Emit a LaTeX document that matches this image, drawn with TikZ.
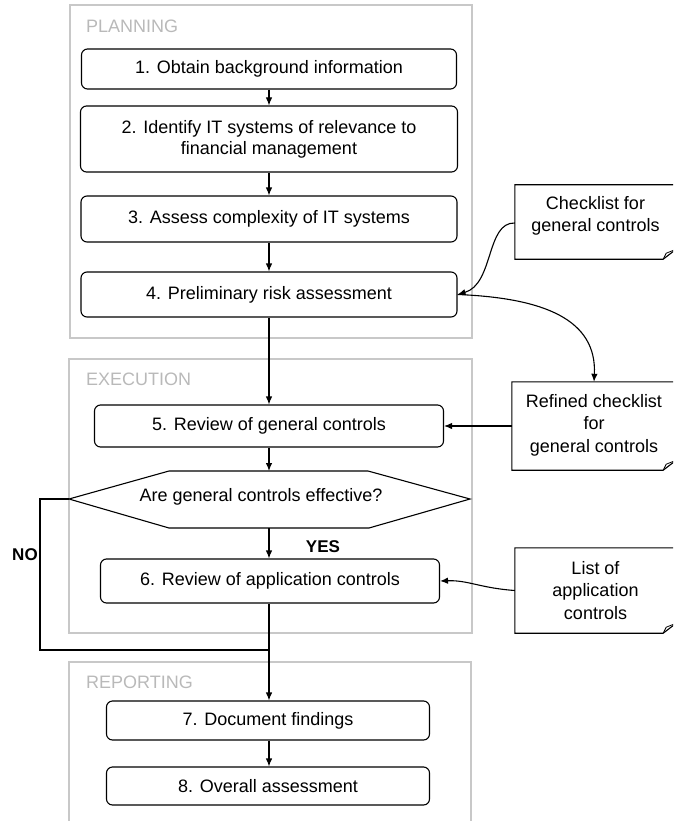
\documentclass[tikz,border=0pt]{standalone}
\usepackage{fontspec}
\setmainfont{Liberation Sans}
\usetikzlibrary{arrows.meta,calc}
\definecolor{framegray}{RGB}{200,200,200}
\definecolor{labelgray}{RGB}{185,185,185}
\tikzset{
  every node/.style={font=\fontsize{18}{21}\selectfont},
  phase/.style={draw=framegray, line width=2.6pt},
  phaselabel/.style={text=labelgray, anchor=west, inner sep=0pt},
  stepbox/.style={draw, line width=1.1pt, rounded corners=6pt, align=center, inner sep=0pt},
  notebox/.style={inner sep=0pt},
  notetext/.style={align=center, inner sep=0pt, font=\fontsize{18}{22.5}\selectfont},
  flow/.style={line width=1.1pt, -{Latex[length=8pt,width=6.5pt]}},
  plain/.style={line width=1.1pt},
  answer/.style={font=\fontsize{17}{20}\selectfont\bfseries, inner sep=0pt},
}
\newcommand{\notedraw}[1]{%
  \draw[line width=1.1pt] (#1.north west) -- (#1.north east) -- ([yshift=10pt]#1.south east)
    -- ([xshift=-13pt]#1.south east) -- (#1.south west) -- cycle;
  \draw[line width=0.8pt] ([xshift=-13pt]#1.south east) -- ([xshift=-10pt,yshift=6pt]#1.south east)
    -- ([yshift=10pt]#1.south east);}
\begin{document}
\begin{tikzpicture}[x=1pt,y=-1pt]
\useasboundingbox (0,0) rectangle (673,821);
\begin{scope}
\clip (0,0) rectangle (673,821);

% phase frames
\draw[phase] (70,5) rectangle (472,338);
\draw[phase] (69,359) rectangle (472,633);
\draw[phase] (69,662) rectangle (471,840);
\node[phaselabel] (lplan) at (86,26) {PLANNING};
\node[phaselabel] (lexec) at (86,379) {EXECUTION};
\node[phaselabel] (lrep) at (86,682) {REPORTING};

% process steps
\node[stepbox, minimum width=375pt, minimum height=40pt] (s1) at (269,69) {1. Obtain background information};
\node[stepbox, minimum width=377pt, minimum height=66pt] (s2) at (269,139) {2. Identify IT systems of relevance to\\financial management};
\node[stepbox, minimum width=376pt, minimum height=46pt] (s3) at (269,219) {3. Assess complexity of IT systems};
\node[stepbox, minimum width=376pt, minimum height=45pt] (s4) at (269,294.5) {4. Preliminary risk assessment};
\node[stepbox, minimum width=349pt, minimum height=42pt] (s5) at (269,426) {5. Review of general controls};
\node[stepbox, minimum width=339pt, minimum height=44pt] (s6) at (270,581) {6. Review of application controls};
\node[stepbox, minimum width=323pt, minimum height=39pt] (s7) at (268,720.5) {7. Document findings};
\node[stepbox, minimum width=323pt, minimum height=38pt] (s8) at (268,786) {8. Overall assessment};

% decision
\coordinate (dl) at (69,499);
\coordinate (dr) at (470,499);
\coordinate (dt) at (269,471);
\coordinate (db) at (269,528);
\draw[line width=1.1pt] (dl) -- (169,471) -- (368,471) -- (dr) -- (369,528) -- (169,528) -- cycle;
\node[inner sep=0pt] (dq) at (261,497) {Are general controls effective?};

% documents
\node[notebox, minimum width=161pt, minimum height=74pt] (chk) at (595.5,222) {};
\notedraw{chk}
\node[notetext] (chkt) at ([yshift=6pt]chk.center) {Checklist for\\general controls};
\node[notebox, minimum width=164pt, minimum height=88pt] (ref) at (594,426) {};
\notedraw{ref}
\node[notetext] (reft) at ([yshift=1pt]ref.center) {Refined checklist\\for\\general controls};
\node[notebox, minimum width=161pt, minimum height=85pt] (lst) at (595.5,590.5) {};
\notedraw{lst}
\node[notetext] (lstt) at (lst.center) {List of\\application\\controls};

% main flow
\draw[flow] (s1.south) -- (s2.north);
\draw[flow] (s2.south) -- (s3.north);
\draw[flow] (s3.south) -- (s4.north);
\draw[flow] (s4.south) -- (s5.north);
\draw[flow] (s5.south) -- (dt);
\draw[flow] (db) -- (s6.north -| db);
\coordinate (join) at (269,650);
\draw[flow] (s6.south -| join) -- (s7.north -| join);
\draw[flow] (s7.south -| join) -- (s8.north -| join);
\draw[plain] (dl) -- (40,499) -- (40,650) -- (join);

\node[answer] (yes) at (323,547) {YES};
\node[answer] (no) at (25,555) {NO};

% document connectors
\draw[flow] (chk.west |- 0,223) .. controls (486,222) and (494,284) .. (s4.east);
\draw[flow] (s4.east) .. controls (545,298) and (597,320) .. (ref.north);
\draw[flow] (ref.west) -- (ref.west -| s5.east);
\draw[flow] (lst.west) .. controls (480,588) and (468,580) .. (s6.east);
\end{scope}
\end{tikzpicture}
\end{document}
